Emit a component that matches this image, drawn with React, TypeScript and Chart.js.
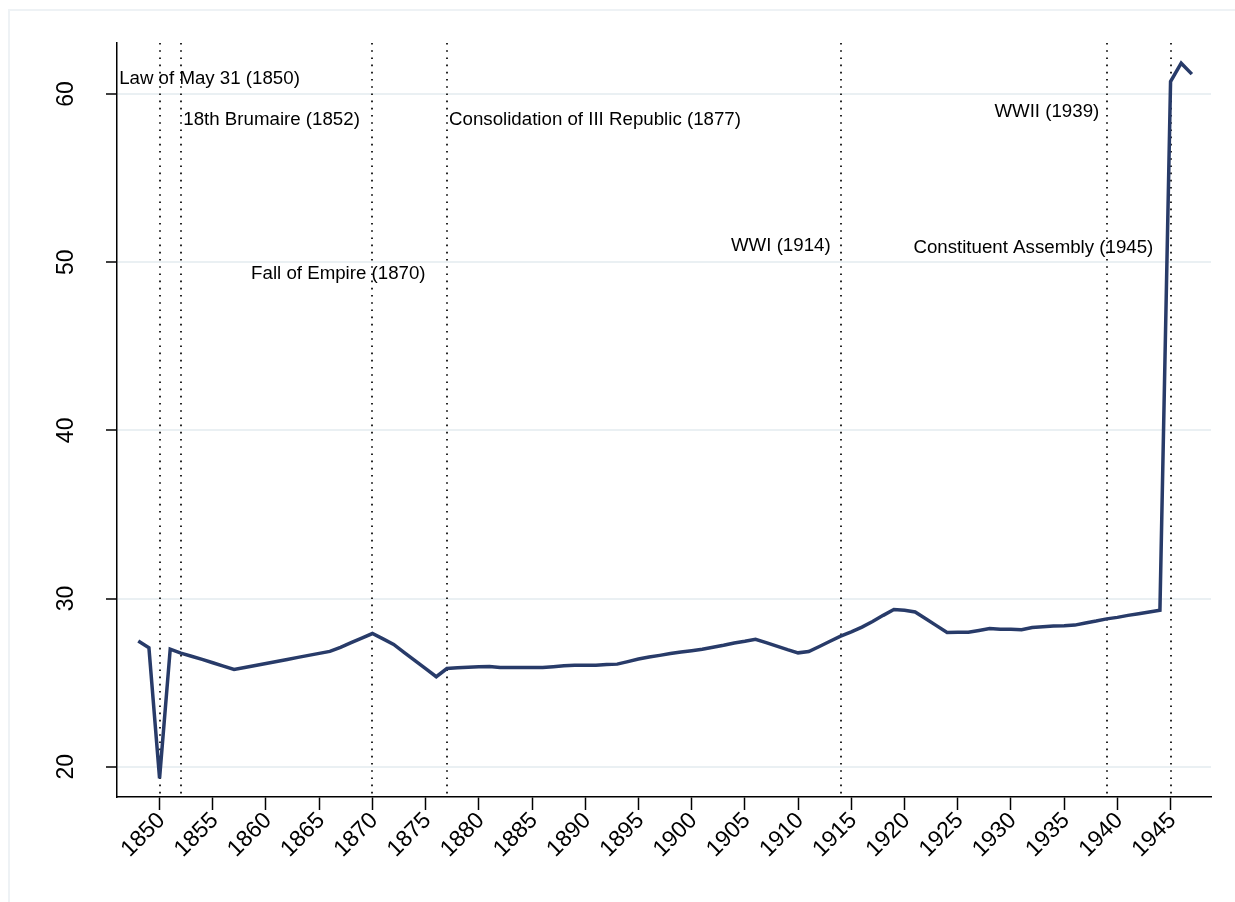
import React, { useEffect, useRef } from "react";
import { Chart, registerables } from "chart.js";

Chart.register(...registerables);

// ---- data ----
const years = [
  1848, 1849, 1850, 1851, 1852, 1853, 1854, 1855, 1856, 1857,
  1858, 1859, 1860, 1861, 1862, 1863, 1864, 1865, 1866, 1867,
  1868, 1869, 1870, 1871, 1872, 1873, 1874, 1875, 1876, 1877,
  1878, 1879, 1880, 1881, 1882, 1883, 1884, 1885, 1886, 1887,
  1888, 1889, 1890, 1891, 1892, 1893, 1894, 1895, 1896, 1897,
  1898, 1899, 1900, 1901, 1902, 1903, 1904, 1905, 1906, 1907,
  1908, 1909, 1910, 1911, 1912, 1913, 1914, 1915, 1916, 1917,
  1918, 1919, 1920, 1921, 1922, 1923, 1924, 1925, 1926, 1927,
  1928, 1929, 1930, 1931, 1932, 1933, 1934, 1935, 1936, 1937,
  1938, 1939, 1940, 1941, 1942, 1943, 1944, 1945, 1946, 1947,
];

const shares = [
  27.48, 27.07, 19.31, 26.99, 26.75, 26.57, 26.38, 26.18, 25.98, 25.78,
  25.9, 26.02, 26.14, 26.26, 26.38, 26.5, 26.62, 26.74, 26.86, 27.1,
  27.38, 27.65, 27.92, 27.6, 27.27, 26.79, 26.31, 25.83, 25.35, 25.84,
  25.88, 25.92, 25.94, 25.96, 25.9, 25.9, 25.9, 25.9, 25.9, 25.95,
  26.0, 26.04, 26.04, 26.04, 26.08, 26.1, 26.25, 26.4, 26.52, 26.62,
  26.73, 26.82, 26.9, 26.98, 27.1, 27.22, 27.36, 27.46, 27.58, 27.38,
  27.17, 26.96, 26.77, 26.85, 27.15, 27.46, 27.76, 28.02, 28.3, 28.63,
  29.0, 29.35, 29.3, 29.2, 28.8, 28.39, 27.98, 28.0, 27.99, 28.1,
  28.22, 28.18, 28.18, 28.15, 28.28, 28.32, 28.36, 28.38, 28.42, 28.55,
  28.66, 28.79, 28.88, 29.0, 29.1, 29.2, 29.3, 60.74, 61.83, 61.18,
];

const xTickValues = [
  1850, 1855, 1860, 1865, 1870, 1875, 1880, 1885, 1890, 1895,
  1900, 1905, 1910, 1915, 1920, 1925, 1930, 1935, 1940, 1945,
];
const yTickValues = [20, 30, 40, 50, 60];

const eventYears = [1850, 1852, 1870, 1877, 1914, 1939, 1945];
const eventLabels = [
  "Law of May 31 (1850)",
  "18th Brumaire (1852)",
  "Fall of Empire (1870)",
  "Consolidation of III Republic (1877)",
  "WWI (1914)",
  "WWII (1939)",
  "Constituent Assembly (1945)",
];
const eventLabelX = [1846.2, 1852.23, 1858.6, 1877.2, 1913.06, 1938.3, 1943.38];
const eventLabelY = [60.89, 58.45, 49.29, 58.45, 50.96, 58.945, 50.84];
const eventLabelAlign = ["left", "left", "left", "left", "right", "right", "right"];

// ---- styles ----
const FONT = '"Liberation Sans", Arial, Helvetica, sans-serif';
const LINE_COLOR = "#283b69";
const GRID_COLOR = "#eaf0f3";

const overlay = {
  id: "overlay",
  beforeDatasetsDraw(chart: any) {
    const { ctx, chartArea, scales } = chart;
    const xs = scales.x;
    ctx.save();
    ctx.strokeStyle = "#111";
    ctx.lineWidth = 1.8;
    ctx.setLineDash([1.6, 5.6]);
    for (const yr of eventYears) {
      const px = Math.round(xs.getPixelForValue(yr));
      ctx.beginPath();
      ctx.moveTo(px, chartArea.top);
      ctx.lineTo(px, chartArea.bottom - 3);
      ctx.stroke();
    }
    ctx.restore();
  },
  afterDatasetsDraw(chart: any) {
    const { ctx, chartArea, scales } = chart;
    const xs = scales.x;
    const ys = scales.y;
    ctx.save();
    ctx.fillStyle = "#000";

    // event labels
    ctx.font = `18.7px ${FONT}`;
    ctx.textBaseline = "middle";
    eventLabels.forEach((lab, i) => {
      ctx.textAlign = eventLabelAlign[i] as CanvasTextAlign;
      ctx.fillText(lab, xs.getPixelForValue(eventLabelX[i]), ys.getPixelForValue(eventLabelY[i]));
    });

    // x tick labels (rotated 45)
    ctx.font = `23px ${FONT}`;
    xs.ticks.forEach((t: any) => {
      const px = xs.getPixelForValue(t.value);
      ctx.save();
      ctx.translate(px + 2, chartArea.bottom + 20);
      ctx.rotate(-Math.PI / 4);
      ctx.textAlign = "right";
      ctx.textBaseline = "middle";
      ctx.fillText(String(t.value), 0, 0);
      ctx.restore();
    });

    // y tick labels (rotated 90)
    ctx.font = `23px ${FONT}`;
    ys.ticks.forEach((t: any) => {
      const py = ys.getPixelForValue(t.value);
      ctx.save();
      ctx.translate(chartArea.left - 44, py);
      ctx.rotate(-Math.PI / 2);
      ctx.textAlign = "center";
      ctx.textBaseline = "alphabetic";
      ctx.fillText(String(t.value), 0, 0);
      ctx.restore();
    });
    ctx.restore();
  },
};

export default function App() {
  const ref = useRef<HTMLCanvasElement>(null);

  useEffect(() => {
    const canvas = ref.current!;
    const chart = new Chart(canvas, {
      type: "line",
      data: {
        datasets: [
          {
            data: years.map((x, i) => ({ x, y: shares[i] })),
            borderColor: LINE_COLOR,
            borderWidth: 3.5,
            pointRadius: 0,
            fill: false,
            tension: 0,
          },
        ],
      },
      options: {
        animation: false,
        responsive: false,
        maintainAspectRatio: false,
        events: [],
        layout: { padding: { left: 0, top: 43, right: 24, bottom: 0 } },
        plugins: { legend: { display: false }, tooltip: { enabled: false } },
        scales: {
          x: {
            type: "linear",
            min: 1846,
            max: 1948.8,
            afterBuildTicks: (s: any) => {
              s.ticks = xTickValues.map((v) => ({ value: v }));
            },
            afterFit: (s: any) => {
              s.height = 105;
            },
            ticks: { display: false },
            grid: {
              display: true,
              drawOnChartArea: false,
              drawTicks: true,
              tickLength: 13,
              tickColor: "#000",
              tickWidth: 1.5,
            },
            border: { display: true, color: "#000", width: 1.5 },
          },
          y: {
            type: "linear",
            min: 18.2,
            max: 63.03,
            afterBuildTicks: (s: any) => {
              s.ticks = yTickValues.map((v) => ({ value: v }));
            },
            afterFit: (s: any) => {
              s.width = 117;
            },
            ticks: { display: false },
            grid: {
              display: true,
              drawOnChartArea: true,
              color: GRID_COLOR,
              lineWidth: 2,
              drawTicks: true,
              tickLength: 11,
              tickColor: "#000",
              tickWidth: 1.5,
            },
            border: { display: true, color: "#000", width: 1.5 },
          },
        },
      },
      plugins: [overlay],
    } as any);
    return () => chart.destroy();
  }, []);

  return (
    <div
      style={{
        position: "fixed",
        left: 0,
        top: 0,
        width: 1235,
        height: 902,
        overflow: "hidden",
        background: "#fff",
      }}
    >
      <div
        style={{
          position: "absolute",
          left: 8,
          top: 9,
          width: 1400,
          height: 1100,
          border: "2px solid #eef2f5",
        }}
      />
      <canvas
        ref={ref}
        width={1235}
        height={902}
        style={{ position: "absolute", left: 0, top: 0, width: 1235, height: 902 }}
      />
    </div>
  );
}
